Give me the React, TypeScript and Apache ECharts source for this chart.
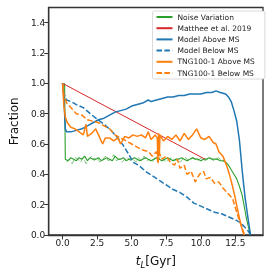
import React, { useEffect, useRef } from "react";
import * as echarts from "echarts";

const xTicks = [0, 2.5, 5, 7.5, 10, 12.5];
const yTicks = [0, 0.2, 0.4, 0.6, 0.8, 1.0, 1.2, 1.4];

const noiseVariation: number[][] = [
  [0.15, 1.0], [0.2, 0.5], [0.4, 0.49], [0.6, 0.51], [0.8, 0.5], [1.0, 0.49], [1.2, 0.51], [1.4, 0.5],
  [1.6, 0.52], [1.8, 0.49], [2.0, 0.51], [2.2, 0.5], [2.4, 0.5], [2.6, 0.51], [2.8, 0.49], [3.0, 0.5],
  [3.2, 0.51], [3.4, 0.5], [3.6, 0.49], [3.8, 0.52], [4.0, 0.5], [4.2, 0.5], [4.4, 0.51], [4.6, 0.49],
  [4.8, 0.5], [5.0, 0.5], [5.2, 0.51], [5.4, 0.5], [5.6, 0.49], [5.8, 0.5], [6.0, 0.51], [6.2, 0.5],
  [6.4, 0.49], [6.6, 0.5], [6.8, 0.51], [7.0, 0.5], [7.2, 0.49], [7.4, 0.5], [7.6, 0.51], [7.8, 0.5],
  [8.0, 0.49], [8.2, 0.5], [8.4, 0.5], [8.6, 0.51], [8.8, 0.5], [9.0, 0.49], [9.2, 0.5], [9.4, 0.51],
  [9.6, 0.5], [9.8, 0.5], [10.0, 0.49], [10.2, 0.5], [10.4, 0.5], [10.6, 0.51], [10.8, 0.5], [11.0, 0.5],
  [11.2, 0.5], [11.4, 0.49], [11.6, 0.49], [11.8, 0.48], [12.0, 0.46], [12.2, 0.43], [12.4, 0.4],
  [12.6, 0.37], [12.8, 0.32], [13.0, 0.26], [13.1, 0.21], [13.2, 0.16], [13.3, 0.11], [13.4, 0.07],
  [13.5, 0.03], [13.6, 0.0],
];

const noiseVariationAlt: number[][] = [
  [0.3, 0.48], [0.5, 0.5], [0.7, 0.47], [0.9, 0.51], [1.1, 0.5], [1.3, 0.48], [1.5, 0.51], [1.7, 0.47],
  [1.9, 0.5], [2.1, 0.52], [2.3, 0.49], [2.5, 0.51], [2.7, 0.48], [2.9, 0.5], [3.1, 0.52], [3.3, 0.49],
  [3.5, 0.5], [3.7, 0.53], [3.9, 0.49], [4.1, 0.5], [4.3, 0.48], [4.5, 0.5], [4.7, 0.51], [4.9, 0.49],
  [5.1, 0.5], [5.3, 0.48], [5.5, 0.51], [5.7, 0.49], [5.9, 0.52], [6.1, 0.49], [6.3, 0.5], [6.5, 0.48],
  [6.7, 0.51], [6.9, 0.49], [7.1, 0.52], [7.3, 0.5], [7.5, 0.48], [7.7, 0.5], [7.9, 0.51], [8.1, 0.49],
  [8.3, 0.5], [8.5, 0.48], [8.7, 0.5], [8.9, 0.51], [9.1, 0.49], [9.3, 0.5], [9.5, 0.51], [9.7, 0.49],
  [9.9, 0.5], [10.1, 0.51], [10.3, 0.49], [10.5, 0.5], [10.7, 0.51], [10.9, 0.49], [11.1, 0.5],
  [11.3, 0.51], [11.5, 0.49], [11.7, 0.49], [11.9, 0.47], [12.1, 0.45],
];

const matthee2019: number[][] = [[0, 1.0], [10.3, 0.5]];

const modelAboveMS: number[][] = [
  [0, 1.0], [0.1, 0.9], [0.2, 0.7], [0.3, 0.68], [0.6, 0.68], [1.0, 0.69], [1.4, 0.7], [1.8, 0.72],
  [2.2, 0.74], [2.6, 0.76], [3.0, 0.77], [3.4, 0.79], [3.8, 0.81], [4.2, 0.82], [4.6, 0.83], [5.0, 0.85],
  [5.4, 0.86], [5.8, 0.87], [6.2, 0.89], [6.4, 0.88], [6.8, 0.89], [7.2, 0.9], [7.6, 0.91], [8.0, 0.91],
  [8.4, 0.92], [8.8, 0.92], [9.2, 0.93], [9.6, 0.93], [10.0, 0.93], [10.4, 0.94], [10.8, 0.94],
  [11.1, 0.95], [11.4, 0.94], [11.8, 0.93], [12.0, 0.91], [12.2, 0.88], [12.4, 0.82], [12.6, 0.75],
  [12.8, 0.62], [13.0, 0.42], [13.2, 0.25], [13.4, 0.12], [13.6, 0.0],
];

const modelBelowMS: number[][] = [
  [0, 1.0], [0.1, 0.93], [0.3, 0.89], [0.6, 0.88], [1.0, 0.86], [1.5, 0.84], [2.0, 0.8], [2.5, 0.765],
  [3.0, 0.73], [3.5, 0.69], [4.0, 0.64], [4.4, 0.59], [4.8, 0.53], [5.1, 0.48], [5.5, 0.46], [6.0, 0.42],
  [6.5, 0.39], [7.0, 0.36], [7.5, 0.33], [8.0, 0.3], [8.5, 0.28], [9.0, 0.25], [9.5, 0.21], [10.0, 0.19],
  [10.5, 0.17], [11.0, 0.15], [11.5, 0.14], [12.0, 0.12], [12.5, 0.1], [12.9, 0.08], [13.2, 0.05],
  [13.4, 0.03], [13.6, 0.0],
];

const tngAboveMS: number[][] = [
  [0, 1.0], [0.1, 0.85], [0.2, 0.78], [0.35, 0.74], [0.6, 0.71], [0.9, 0.7], [1.2, 0.68], [1.5, 0.66],
  [1.7, 0.73], [1.8, 0.65], [2.1, 0.67], [2.4, 0.7], [2.6, 0.66], [2.9, 0.6], [3.1, 0.64], [3.4, 0.64],
  [3.7, 0.62], [4.0, 0.64], [4.2, 0.6], [4.5, 0.65], [4.8, 0.64], [5.1, 0.66], [5.4, 0.65], [5.7, 0.66],
  [6.0, 0.64], [6.2, 0.68], [6.4, 0.63], [6.7, 0.66], [6.85, 0.64], [6.9, 0.5], [6.95, 0.67], [7.0, 0.52],
  [7.05, 0.66], [7.3, 0.62], [7.6, 0.65], [7.9, 0.63], [8.2, 0.66], [8.5, 0.62], [8.8, 0.67], [9.1, 0.63],
  [9.4, 0.66], [9.7, 0.7], [10.0, 0.64], [10.3, 0.63], [10.6, 0.65], [10.9, 0.61], [11.1, 0.6],
  [11.3, 0.55], [11.6, 0.52], [11.9, 0.45], [12.1, 0.39], [12.3, 0.32], [12.5, 0.24], [12.7, 0.15],
  [12.9, 0.07], [13.05, 0.02], [13.15, 0.0],
];

const tngBelowMS: number[][] = [
  [0, 1.0], [0.1, 0.92], [0.3, 0.87], [0.6, 0.84], [1.0, 0.8], [1.4, 0.79], [1.8, 0.76], [2.2, 0.75],
  [2.6, 0.74], [3.0, 0.72], [3.4, 0.7], [3.8, 0.66], [4.2, 0.64], [4.6, 0.62], [5.0, 0.6], [5.4, 0.58],
  [5.8, 0.56], [6.2, 0.55], [6.5, 0.52], [6.8, 0.55], [6.9, 0.47], [7.0, 0.54], [7.2, 0.5], [7.5, 0.52],
  [7.8, 0.48], [8.1, 0.46], [8.3, 0.5], [8.5, 0.44], [8.8, 0.46], [9.0, 0.4], [9.3, 0.42], [9.6, 0.35],
  [9.9, 0.4], [10.2, 0.42], [10.4, 0.37], [10.7, 0.38], [11.0, 0.34], [11.3, 0.35], [11.6, 0.31],
  [11.9, 0.28], [12.1, 0.26], [12.3, 0.24], [12.5, 0.18], [12.7, 0.12], [12.9, 0.07], [13.05, 0.03],
  [13.15, 0.0],
];

const GREEN = "#2ca02c";
const RED = "#d62728";
const BLUE = "#1f77b4";
const ORANGE = "#ff7f0e";
const AXIS = "#333333";
const FONT = "DejaVu Sans";
const DASH = [5.5, 2.4];

export default function App() {
  const ref = useRef<HTMLDivElement>(null);
  useEffect(() => {
    if (!ref.current) return;
    const chart = echarts.init(ref.current, null, { renderer: "svg" });
    const line = (name: string, data: number[][], color: string, width: number, dashed = false, z = 2) => ({
      name,
      type: "line",
      data,
      showSymbol: false,
      symbol: "none",
      z,
      lineStyle: { color, width, type: dashed ? DASH : "solid" },
      itemStyle: { color },
    });
    chart.setOption({
      animation: false,
      textStyle: { fontFamily: FONT },
      grid: { left: 43, right: 11, top: 7.5, bottom: 33, show: true, borderColor: AXIS, borderWidth: 1.3, backgroundColor: "transparent" },
      legend: {
        orient: "vertical",
        left: 152.5,
        top: 11,
        padding: [1.5, 10, 1.5, 3],
        itemWidth: 16,
        itemHeight: 9,
        itemGap: 2.2,
        backgroundColor: "#ffffff",
        borderColor: "#d0d0d0",
        borderWidth: 0.8,
        borderRadius: 2,
        itemStyle: { color: "transparent", borderColor: "transparent", borderWidth: 0, opacity: 0 },
        textStyle: { fontSize: 7.5, color: "#222", fontFamily: FONT, lineHeight: 9 },
        data: ["Noise Variation", "Matthee et al. 2019", "Model Above MS", "Model Below MS", "TNG100-1 Above MS", "TNG100-1 Below MS"],
      },
      xAxis: {
        type: "value",
        min: -1,
        max: 14.5,
        name: "{t|t}{s|L}{g|[Gyr]}",
        nameLocation: "middle",
        nameGap: 18,
        nameTextStyle: {
          fontFamily: FONT,
          color: "#111",
          rich: {
            t: { fontStyle: "italic", fontSize: 12, fontFamily: FONT, color: "#111", lineHeight: 16, verticalAlign: "middle" },
            s: { fontStyle: "italic", fontSize: 8.5, fontFamily: FONT, color: "#111", lineHeight: 16, verticalAlign: "bottom" },
            g: { fontSize: 12, fontFamily: FONT, color: "#111", lineHeight: 16, verticalAlign: "middle" },
          },
        },
        axisLine: { show: true, onZero: false, lineStyle: { color: AXIS, width: 1.3 } },
        axisTick: { show: true, customValues: xTicks, length: 4.5, lineStyle: { color: AXIS, width: 1 } },
        axisLabel: { customValues: xTicks, fontSize: 9, color: "#222", margin: 3.5, fontFamily: FONT, formatter: (v: number) => v.toFixed(1) },
        splitLine: { show: false },
      },
      yAxis: {
        type: "value",
        min: 0,
        max: 1.5,
        name: "Fraction",
        nameLocation: "middle",
        nameGap: 26,
        nameTextStyle: { fontSize: 12, color: "#111", fontFamily: FONT },
        axisLine: { show: true, onZero: false, lineStyle: { color: AXIS, width: 1.3 } },
        axisTick: { show: true, customValues: yTicks, length: 4.5, lineStyle: { color: AXIS, width: 1 } },
        axisLabel: { customValues: yTicks, fontSize: 9, color: "#222", margin: 3.5, fontFamily: FONT, formatter: (v: number) => v.toFixed(1) },
        splitLine: { show: false },
      },
      series: [
        line("Noise Variation", noiseVariation, GREEN, 1.1),
        line("Noise Variation (alt)", noiseVariationAlt, GREEN, 0.6, true),
        line("Matthee et al. 2019", matthee2019, RED, 1.0),
        line("Model Above MS", modelAboveMS, BLUE, 1.5),
        line("Model Below MS", modelBelowMS, BLUE, 1.5, true),
        line("TNG100-1 Above MS", tngAboveMS, ORANGE, 1.5),
        line("TNG100-1 Below MS", tngBelowMS, ORANGE, 1.5, true),
      ],
    });
    return () => chart.dispose();
  }, []);
  return <div ref={ref} style={{ position: "fixed", left: 0, top: 0, width: 274, height: 274 }} />;
}
